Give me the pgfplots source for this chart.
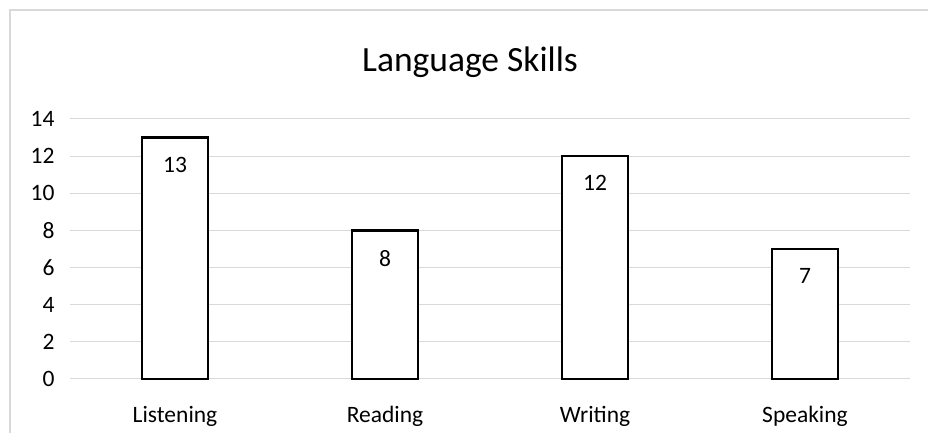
\documentclass[border=0pt]{standalone}
\usepackage{fontspec}
\setmainfont{Carlito}
\usepackage{pgfplots}
\pgfplotsset{compat=1.18}
\definecolor{gridgray}{RGB}{217,217,217}
\begin{document}
\begin{tikzpicture}[x=1pt,y=1pt]
\path[use as bounding box] (0,0) rectangle (928,433);
\draw[gridgray,line width=1.2pt] (10,0) -- (10,423) -- (930,423);
\node[font=\fontsize{35.5}{36}\selectfont] at (470,371) {Language Skills};
\begin{axis}[
  at={(70pt,54pt)}, anchor=south west,
  scale only axis, width=840pt, height=260pt,
  xmin=-0.5, xmax=3.5, ymin=0, ymax=14,
  xtick=data, xticklabels={Listening,Reading,Writing,Speaking},
  ytick={0,2,...,14},
  ymajorgrids, grid style={gridgray,line width=1pt},
  axis x line*=bottom, axis y line*=left,
  x axis line style={gridgray,line width=1pt,-},
  y axis line style={draw=none},
  major tick length=0pt,
  tick label style={font=\fontsize{23.5}{24}\selectfont},
  /pgf/number format/assume math mode=true,
  yticklabel style={xshift=-12pt},
  xticklabel style={yshift=-24pt},
  ybar, bar width=66pt,
  nodes near coords,
  every node near coord/.append style={anchor=north,yshift=-15pt,font=\fontsize{23.5}{24}\selectfont,black},
  clip=false,
]
\addplot[draw=black, fill=white, line width=2.4pt] coordinates {(0,13) (1,8) (2,12) (3,7)};
\end{axis}
\end{tikzpicture}
\end{document}
